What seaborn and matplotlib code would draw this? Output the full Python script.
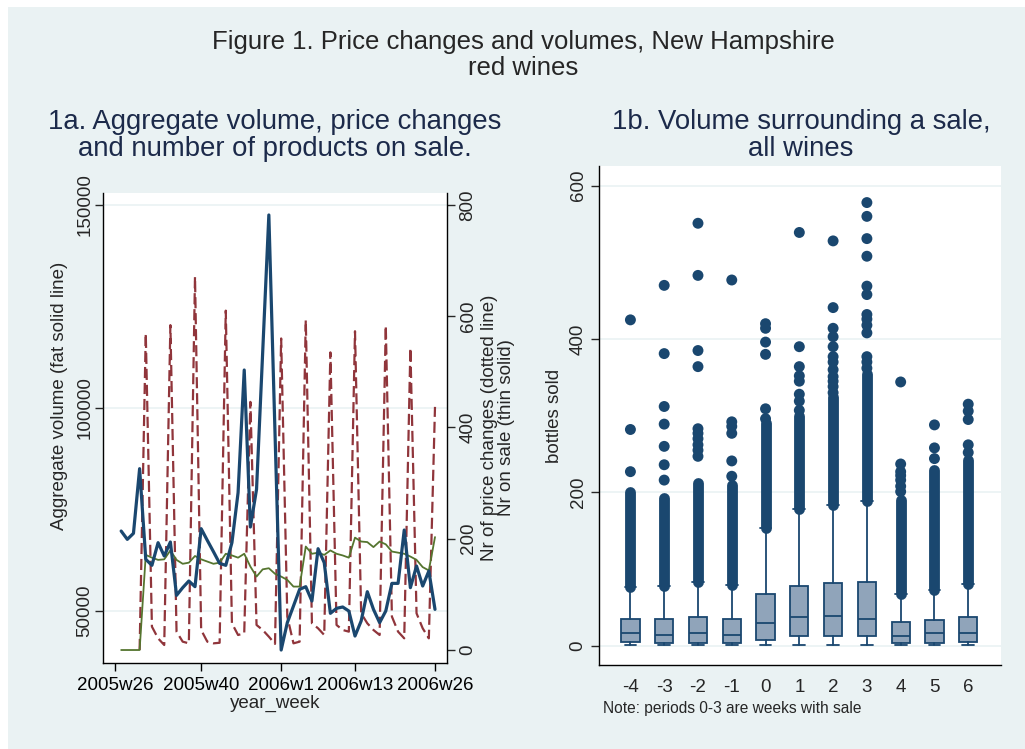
import numpy as np
import pandas as pd
import matplotlib
matplotlib.use("Agg")
import matplotlib.pyplot as plt
from matplotlib.patches import Rectangle
import seaborn as sns

# ---- panel 1a: weekly series, week index counted from 2005w26 ----
weeks = list(range(1, 53))
volume = [69700, 67650, 69130, 85060, 62730, 61250, 66830, 63550, 67000, 53860,
          55750, 57390, 55990, 70280, 67400, 64610, 61740, 61250, 66830, 79150,
          109360, 70690, 79970, 113790, 147540, 93920, 40390, 47130, 51230, 55340,
          55990, 52460, 65350, 61900, 49430, 50660, 50990, 50000, 43840, 47540,
          54760, 50410, 47130, 50000, 56810, 56810, 69950, 55750, 61080, 56160,
          59850, 50410]
price_changes = [np.nan, np.nan, np.nan, 0, 569, 42, 21, 9, 584, 33,
                 15, 12, 671, 36, 15, 12, 13, 610, 48, 27,
                 30, 446, 45, 36, 24, 11, 560, 60, 12, 15,
                 593, 48, 39, 27, 535, 45, 36, 33, 573, 66,
                 48, 36, 27, 583, 60, 33, 21, 543, 66, 39,
                 21, 437]
on_sale = [0, 0, 0, 0, 171, 166, 162, 163, 179, 162,
           155, 157, 169, 163, 159, 155, 157, 173, 170, 166,
           173, 150, 132, 145, 147, 137, 132, 126, 114, 114,
           186, 173, 175, 171, 179, 173, 170, 166, 202, 195,
           194, 185, 195, 190, 177, 175, 173, 168, 162, 149,
           143, 203]
week_ticks = [0, 14, 27, 39, 52]
week_labels = ["2005w26", "2005w40", "2006w1", "2006w13", "2006w26"]

# ---- panel 1b: bottles sold around a sale ----
periods = [-4, -3, -2, -1, 0, 1, 2, 3, 4, 5, 6]
q1 = [5, 4, 4, 4, 8, 12, 13, 12, 4, 4, 5]
median = [17, 14, 17, 14, 30, 38, 39, 35, 13, 16, 17]
q3 = [35, 35, 38, 35, 67, 78, 82, 83, 31, 33, 38]
whisk_lo = [1, 1, 1, 1, 1, 1, 1, 1, 1, 1, 1]
whisk_hi = [77, 78, 83, 79, 153, 178, 184, 189, 68, 73, 81]
# outliers that merge into a solid column
dense_lo = [77, 78, 83, 79, 153, 178, 184, 189, 68, 73, 81]
dense_hi = [200, 192, 212, 210, 290, 300, 325, 355, 190, 229, 242]
# separate outlier dots
outliers = {
    -4: [227, 282, 425],
    -3: [216, 236, 260, 289, 312, 381, 470],
    -2: [247, 255, 262, 270, 277, 283, 364, 385, 483, 551],
    -1: [221, 241, 277, 286, 292, 477],
    0: [296, 309, 380, 396, 414, 420],
    1: [307, 319, 328, 345, 352, 364, 390, 539],
    2: [330, 338, 345, 351, 360, 370, 377, 390, 403, 414, 441, 528],
    3: [362, 370, 377, 408, 418, 426, 432, 458, 469, 508, 531, 560, 578],
    4: [201, 208, 216, 222, 227, 237, 344],
    5: [244, 258, 288],
    6: [252, 262, 295, 306, 315],
}

sns.set_style("white")
plt.rcParams["font.family"] = ["Liberation Sans", "DejaVu Sans"]

BG = "#eaf2f3"
NAVY = "#1a476f"
MAROON = "#90353b"
GREEN = "#55752f"
TITLE = "#1c2a4a"
W, H = 1025, 749


def px_box(x0, y0, x1, y1):
    return [x0 / W, 1 - y1 / H, (x1 - x0) / W, (y1 - y0) / H]


fig = plt.figure(figsize=(W / 100, H / 100), dpi=100, facecolor="white")
fig.patches.append(Rectangle((8 / W, 0), 1, 1 - 7 / H, transform=fig.transFigure,
                             facecolor=BG, edgecolor="none", zorder=-10))

fig.text(523 / W, 1 - 42 / H, "Figure 1. Price changes and volumes, New Hampshire",
         ha="center", va="center", fontsize=18.5)
fig.text(523 / W, 1 - 68 / H, "red wines", ha="center", va="center", fontsize=18.5)
fig.text(275 / W, 1 - 122 / H, "1a. Aggregate volume, price changes",
         ha="center", va="center", fontsize=19.8, color=TITLE)
fig.text(275 / W, 1 - 149 / H, "and number of products on sale.",
         ha="center", va="center", fontsize=19.8, color=TITLE)
fig.text(801 / W, 1 - 122 / H, "1b. Volume surrounding a sale,",
         ha="center", va="center", fontsize=19.8, color=TITLE)
fig.text(801 / W, 1 - 149 / H, "all wines", ha="center", va="center",
         fontsize=19.8, color=TITLE)

# ---------------- left panel ----------------
ts = pd.DataFrame({"week": weeks, "volume": volume,
                   "price_changes": price_changes, "on_sale": on_sale})

ax = fig.add_axes(px_box(103, 192.7, 447, 662.7))
ax2 = ax.twinx()

sns.lineplot(data=ts.dropna(subset=["price_changes"]), x="week", y="price_changes",
             ax=ax2, color=MAROON, lw=1.6, linestyle=(0, (5, 2.2)))
sns.lineplot(data=ts, x="week", y="on_sale", ax=ax2, color=GREEN, lw=1.3)
sns.lineplot(data=ts, x="week", y="volume", ax=ax, color=NAVY, lw=2.3)

ax.set_zorder(ax2.get_zorder() + 1)
ax.patch.set_visible(False)
ax2.patch.set_visible(True)
ax2.patch.set_facecolor("white")

ax.set_xlim(-1.95, 53.95)
ax.set_ylim(37270, 153030)
ax2.set_ylim(-22.8, 822)
ax.set_xticks(week_ticks)
ax.set_xticklabels(week_labels)
ax.set_yticks([50000, 100000, 150000])
ax.set_yticklabels(["50000", "100000", "150000"])
ax2.set_yticks([0, 200, 400, 600, 800])
ax2.set_yticklabels(["0", "200", "400", "600", "800"])

for a in (ax, ax2):
    for s in a.spines.values():
        s.set_visible(False)
for s in ("left", "right", "bottom"):
    ax2.spines[s].set_visible(True)
    ax2.spines[s].set_color("black")
    ax2.spines[s].set_linewidth(1.0)

for yv in [50000, 100000, 150000]:
    ax2.axhline((yv - 37270) / (153030 - 37270) * (822 + 22.8) - 22.8,
                color=BG, lw=1.2, zorder=0)

ax.tick_params(axis="x", length=6, width=1, pad=4, labelsize=13.5, direction="out",
               bottom=True, colors="black")
ax.tick_params(axis="y", length=6, width=1, pad=1, labelsize=13.5, labelrotation=90,
               left=True, direction="out")
ax2.tick_params(axis="y", length=6, width=1, pad=3, labelsize=13.5, labelrotation=90,
                right=True, direction="out")
for lab in ax.get_yticklabels() + ax2.get_yticklabels():
    lab.set_va("center")
ax2.tick_params(axis="x", bottom=False, labelbottom=False)

ax.set_xlabel("year_week", fontsize=13.5, labelpad=1)
ax.set_ylabel("Aggregate volume (fat solid line)", fontsize=13.5)
ax.yaxis.set_label_coords(-0.102, 0.568)
ax2.set_ylabel("Nr of price changes (dotted line)\nNr on sale (thin solid)",
               fontsize=13.5, linespacing=1.0)
ax2.yaxis.set_label_coords(1.10, 0.5)

# ---------------- right panel ----------------
bx = fig.add_axes(px_box(599, 166, 1001, 665))
bx.set_facecolor("white")
for yv in [0, 200, 400, 600]:
    bx.axhline(yv, color=BG, lw=1.2, zorder=0)

stats = [dict(med=m, q1=a, q3=b, whislo=lo, whishi=hi, fliers=[])
         for m, a, b, lo, hi in zip(median, q1, q3, whisk_lo, whisk_hi)]
bx.bxp(stats, positions=periods, widths=0.54, capwidths=0.35, patch_artist=True,
       manage_ticks=False,
       boxprops=dict(facecolor="#90a4ba", edgecolor=NAVY, linewidth=1.3),
       medianprops=dict(color=NAVY, linewidth=1.3),
       whiskerprops=dict(color=NAVY, linewidth=1.3),
       capprops=dict(color=NAVY, linewidth=1.3))

bx.vlines(periods, dense_lo, dense_hi, colors=NAVY, linewidth=7.8,
          capstyle="round", zorder=3)
out = pd.DataFrame([(p, v) for p, vals in outliers.items() for v in vals],
                   columns=["period", "bottles"])
sns.scatterplot(data=out, x="period", y="bottles", ax=bx, color=NAVY, s=62,
                edgecolor="none", zorder=4)

bx.set_xlim(-4.93, 6.97)
bx.set_ylim(-25.2, 625.7)
bx.set_xticks(periods)
bx.set_xticklabels([str(p) for p in periods])
bx.set_yticks([0, 200, 400, 600])
bx.set_yticklabels(["0", "200", "400", "600"])
for s in ("top", "right"):
    bx.spines[s].set_visible(False)
for s in ("left", "bottom"):
    bx.spines[s].set_color("black")
    bx.spines[s].set_linewidth(1.0)
bx.tick_params(axis="x", length=0, pad=10, labelsize=13.5)
bx.tick_params(axis="y", length=6, width=1, pad=3, labelsize=13.5, labelrotation=90,
               left=True, direction="out")
for lab in bx.get_yticklabels():
    lab.set_va("center")
bx.set_xlabel("")
bx.set_ylabel("bottles sold", fontsize=13.5)
bx.yaxis.set_label_coords(-0.09, 0.5)
fig.text(603 / W, 1 - 708 / H, "Note: periods 0-3 are weeks with sale",
         ha="left", va="center", fontsize=11.2)

fig.savefig("out.png", dpi=100, facecolor="white")
